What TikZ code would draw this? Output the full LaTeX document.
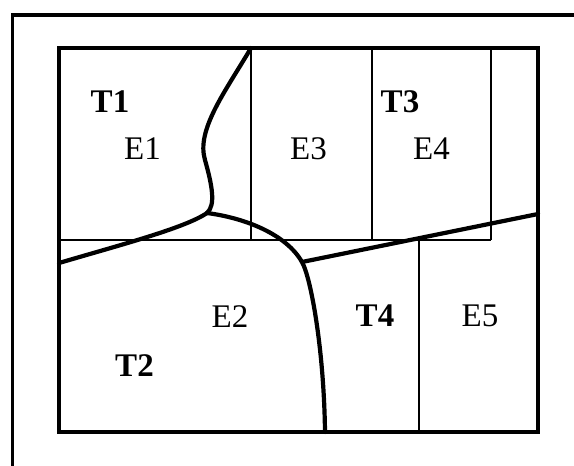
\documentclass[tikz,border=0pt]{standalone}
\usepackage{fontspec}
\setmainfont{Liberation Serif}
\begin{document}
\begin{tikzpicture}[x=1pt,y=-1pt,
  thin line/.style={line width=1.2pt},
  thick border/.style={line width=4.2pt},
  frame line/.style={line width=3.2pt},
  boundary/.style={line width=4.2pt, line cap=round, line join=round},
  elab/.style={font=\fontsize{33}{33}\selectfont, inner sep=0pt, anchor=base},
  tlab/.style={font=\fontsize{33}{33}\selectfont\bfseries, inner sep=0pt, anchor=base}]
\useasboundingbox (0,0) rectangle (574,466);
% outer frame (cut off right and bottom)
\draw[frame line] (12.5,480) -- (12.5,15) -- (590,15);
% thin cell lines
\draw[thin line] (59,240) -- (491,240);
\draw[thin line] (251,48) -- (251,240);
\draw[thin line] (372,48) -- (372,240);
\draw[thin line] (491,48) -- (491,240);
\draw[thin line] (419,240) -- (419,432);
% inner thick rectangle
\draw[thick border] (59,48) rectangle (538,432);
% boundaries
\coordinate (J) at (207,213);
\coordinate (K) at (302,262);
\draw[boundary] (251,48) .. controls (225,92) and (196,130) .. (205,160)
  .. controls (212,185) and (216,205) .. (J);
\draw[boundary] (J) .. controls (185,228) and (120,245) .. (59,263);
\draw[boundary] (J) .. controls (245,218) and (286,234) .. (K)
  .. controls (311,278) and (324,350) .. (325,432);
\draw[boundary] (K) -- (538,214);
% labels
\node[tlab] (t1) at (110,112) {T1};
\node[elab] (e1) at (142.5,159) {E1};
\node[elab] (e3) at (308.5,159) {E3};
\node[tlab] (t3) at (400,112) {T3};
\node[elab] (e4) at (431.5,159) {E4};
\node[elab] (e2) at (230,327) {E2};
\node[tlab] (t2) at (134.5,376) {T2};
\node[tlab] (t4) at (375,326) {T4};
\node[elab] (e5) at (480,326) {E5};
\end{tikzpicture}
\end{document}
